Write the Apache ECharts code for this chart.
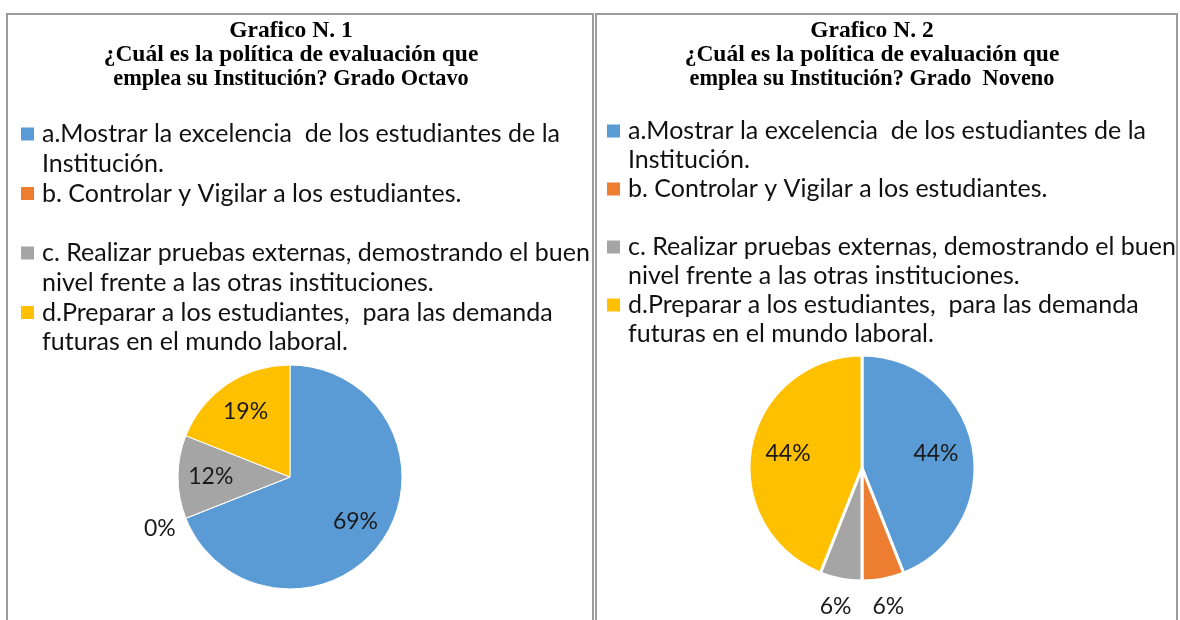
<!DOCTYPE html>
<html>
<head>
<meta charset="utf-8">
<title>Grafico N. 1 y N. 2</title>
<script src="https://cdn.jsdelivr.net/npm/echarts@6/dist/echarts.min.js"></script>
<style>
html, body { margin: 0; padding: 0; background: #fff; }
#chart { width: 1180px; height: 620px; }
</style>
</head>
<body>
<div id="chart"></div>
<script>
// datos
const categories = [
	'a.Mostrar la excelencia  de los estudiantes de la\nInstitución.',
	'b. Controlar y Vigilar a los estudiantes.',
	'c. Realizar pruebas externas, demostrando el buen\nnivel frente a las otras instituciones.',
	'd.Preparar a los estudiantes,  para las demanda\nfuturas en el mundo laboral.'
];
const octavoValues = [69, 0, 12, 19];
const novenoValues = [44, 6, 6, 44];
const titleOctavo = ['Grafico N. 1', '¿Cuál es la política de evaluación que', 'emplea su Institución? Grado Octavo'];
const titleNoveno = ['Grafico N. 2', '¿Cuál es la política de evaluación que', 'emplea su Institución? Grado  Noveno'];
const colorList = ['#5B9BD5', '#ED7D31', '#A5A5A5', '#FFC000'];

const FONT = 'Lato, "Noto Sans", sans-serif';
const SERIF = '"Liberation Serif", "Times New Roman", serif';

const chartBox = echarts.init(document.getElementById('chart'));

const labelText = {
	fontFamily: FONT,
	fontSize: 23,
	color: '#1a1a1a',
	formatter: '{c}%'
};

// un pie visible (etiquetas fuera para los valores chicos) y uno transparente
// solo para poner las etiquetas de adentro a ~2/3 del radio
const setPie = (values, center, r, border, labelScale) => {
	const main = {
		type: 'pie',
		center: center,
		radius: r,
		startAngle: 90,
		avoidLabelOverlap: false,
		emphasis: { disabled: true },
		itemStyle: { borderColor: '#fff', borderWidth: border },
		label: Object.assign({ show: true, position: 'outside', distanceToLabelLine: 0 }, labelText),
		labelLine: { show: false, length: 28, length2: 0 },
		labelLayout: { align: 'center' },
		data: values.map((v, i) => ({ name: categories[i], value: v, label: { show: v < 10 } }))
	};
	const inner = {
		type: 'pie',
		center: center,
		radius: r * labelScale,
		startAngle: 90,
		silent: true,
		legendHoverLink: false,
		emphasis: { disabled: true },
		itemStyle: { color: 'rgba(0,0,0,0)' },
		label: Object.assign({ show: true, position: 'inside', textBorderWidth: 0 }, labelText),
		labelLine: { show: false },
		data: values.map((v, i) => ({ name: categories[i], value: v, label: { show: v >= 10 } }))
	};
	return [main, inner];
};

// el texto va centrado en el cuadrito, por eso se agrega una linea vacia arriba
// para que el cuadrito quede a la altura de la primera linea
const setLegend = (left, firstRow, rowGap, line) => ({
	orient: 'vertical',
	left: left,
	top: firstRow - 1.5 * line,
	padding: 0,
	icon: 'rect',
	itemWidth: 13,
	itemHeight: 13,
	itemGap: rowGap - 3 * line,
	itemStyle: { borderWidth: 0 },
	selectedMode: false,
	data: categories,
	formatter: (name) => {
		const lines = name.split('\n');
		if (lines.length < 2) lines.push(' ');
		return ' \n' + lines.join('\n');
	},
	textStyle: {
		fontFamily: FONT,
		fontSize: 25,
		lineHeight: line,
		color: '#111',
		padding: [0, 0, 0, 3]
	}
});

// tercera linea del titulo un poco mas angosta, como en la imagen
const setTitle = (x, lines) => ({
	type: 'text',
	x: x,
	y: 19,
	silent: true,
	style: {
		text: '{t|' + lines[0] + '}\n{t|' + lines[1] + '}\n{s|' + lines[2] + '}',
		align: 'center',
		verticalAlign: 'top',
		fill: '#000',
		rich: {
			t: { fontFamily: SERIF, fontWeight: 'bold', fontSize: 23.5, lineHeight: 24, align: 'center' },
			s: { fontFamily: SERIF, fontWeight: 'bold', fontSize: 22.3, lineHeight: 24, align: 'center' }
		}
	}
});

const option = {
	backgroundColor: '#fff',
	color: colorList,
	animation: false,
	legend: [
		setLegend(21, 134, 59.5, 29.5),
		setLegend(607, 131, 58, 29)
	],
	graphic: [
		{ type: 'rect', silent: true, shape: { x: 7, y: 14, width: 586, height: 640 }, style: { fill: 'none', stroke: '#9c9c9c', lineWidth: 2 } },
		{ type: 'rect', silent: true, shape: { x: 596, y: 14, width: 581, height: 640 }, style: { fill: 'none', stroke: '#9c9c9c', lineWidth: 2 } },
		setTitle(291, titleOctavo),
		setTitle(872, titleNoveno)
	],
	series: [].concat(
		setPie(octavoValues, [290, 477], 112, 1, 1.36),
		setPie(novenoValues, [862, 468], 113, 3, 1.28)
	)
};

chartBox.setOption(option);
</script>
</body>
</html>
